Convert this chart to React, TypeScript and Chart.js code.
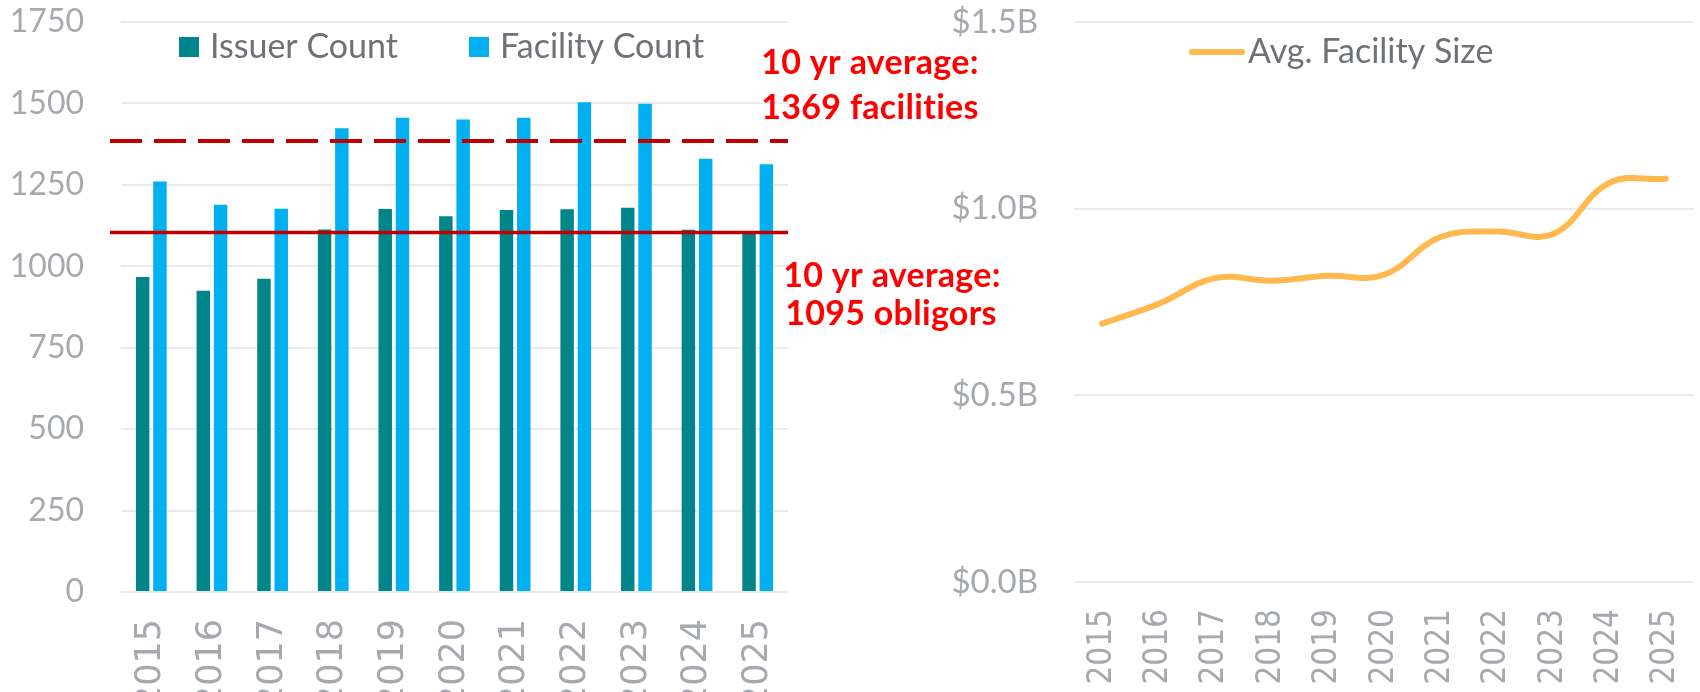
import React, { useEffect, useRef } from "react";
import { Chart, registerables } from "chart.js";

Chart.register(...registerables);

// ---------- data ----------
const years = ["2015", "2016", "2017", "2018", "2019", "2020", "2021", "2022", "2023", "2024", "2025"];
const issuerCount = [967, 925, 962, 1113, 1176, 1154, 1173, 1175, 1180, 1112, 1100];
const facilityCount = [1260, 1189, 1177, 1424, 1456, 1451, 1456, 1504, 1499, 1330, 1313];
const facilityAvgLine = 1385;
const issuerAvgLine = 1104;
const facilityAvgLabel = ["10 yr average:", "1369 facilities"];
const issuerAvgLabel = ["10 yr average:", "1095 obligors"];
const countAxis = { min: 0, max: 1750, step: 250 };

const avgFacilitySizeB = [0.692, 0.745, 0.814, 0.807, 0.82, 0.823, 0.924, 0.939, 0.932, 1.069, 1.08];
const sizeAxisB = { min: 0, max: 1.5, step: 0.5 };

const seriesNames = { issuer: "Issuer Count", facility: "Facility Count", size: "Avg. Facility Size" };

// ---------- styles ----------
const TEAL = "#00868A";
const BLUE = "#00B0F0";
const ORANGE = "#FFB94F";
const DARKRED = "#C00000";
const RED = "#FF0000";
const TICK = "#A6A9AD";
const LEGEND_TXT = "#6E7277";
const GRID = "#EBEBEB";
const CLEAR = "rgba(0,0,0,0)";

const leftOverlay = {
  id: "leftOverlay",
  afterDatasetsDraw(chart: any) {
    const { ctx, chartArea, scales } = chart;
    const y = scales.y;
    ctx.save();
    ctx.strokeStyle = DARKRED;
    ctx.lineWidth = 4;
    ctx.setLineDash([32, 12]);
    let py = y.getPixelForValue(facilityAvgLine);
    ctx.beginPath();
    ctx.moveTo(chartArea.left - 11, py);
    ctx.lineTo(chartArea.right, py);
    ctx.stroke();
    ctx.setLineDash([]);
    ctx.lineWidth = 3.5;
    py = y.getPixelForValue(issuerAvgLine);
    ctx.beginPath();
    ctx.moveTo(chartArea.left - 11, py);
    ctx.lineTo(chartArea.right, py);
    ctx.stroke();
    ctx.restore();
  },
  afterDraw(chart: any) {
    const { ctx } = chart;
    ctx.save();
    const items = [
      { label: chart.data.datasets[0].label, color: TEAL, x: 179 },
      { label: chart.data.datasets[1].label, color: BLUE, x: 469 },
    ];
    ctx.font = "34px Lato";
    ctx.textBaseline = "alphabetic";
    ctx.textAlign = "left";
    items.forEach((it) => {
      ctx.fillStyle = it.color;
      ctx.fillRect(it.x, 37, 20, 20);
      ctx.fillStyle = LEGEND_TXT;
      ctx.fillText(it.label, it.x + 31, 58);
    });
    ctx.font = "bold 34px Lato";
    try {
      (ctx as any).letterSpacing = "0.3px";
    } catch (e) {}
    ctx.fillStyle = RED;
    ctx.textAlign = "center";
    ctx.fillText(facilityAvgLabel[0], 870, 74);
    ctx.fillText(facilityAvgLabel[1], 870, 119);
    ctx.fillText(issuerAvgLabel[0], 892, 287);
    ctx.fillText(issuerAvgLabel[1], 891, 325);
    ctx.restore();
  },
};

const rightOverlay = {
  id: "rightOverlay",
  afterDraw(chart: any) {
    const { ctx } = chart;
    ctx.save();
    ctx.strokeStyle = ORANGE;
    ctx.lineWidth = 6;
    ctx.lineCap = "round";
    ctx.beginPath();
    ctx.moveTo(262, 52);
    ctx.lineTo(312, 52);
    ctx.stroke();
    ctx.font = "34px Lato";
    ctx.fillStyle = LEGEND_TXT;
    ctx.textAlign = "left";
    ctx.textBaseline = "alphabetic";
    ctx.fillText(chart.data.datasets[0].label, 318, 63);
    ctx.restore();
  },
};

export default function App() {
  const leftRef = useRef<HTMLCanvasElement>(null);
  const rightRef = useRef<HTMLCanvasElement>(null);

  useEffect(() => {
    const left = new Chart(leftRef.current as HTMLCanvasElement, {
      type: "bar",
      data: {
        labels: years,
        datasets: [
          { label: seriesNames.issuer, data: issuerCount, backgroundColor: TEAL, barPercentage: 0.78, categoryPercentage: 0.57 },
          { label: seriesNames.facility, data: facilityCount, backgroundColor: BLUE, barPercentage: 0.78, categoryPercentage: 0.57 },
        ],
      },
      options: {
        responsive: false,
        animation: false,
        devicePixelRatio: 1,
        layout: { padding: { top: 22, right: 222, bottom: 0, left: 0 } },
        plugins: { legend: { display: false }, tooltip: { enabled: false } },
        scales: {
          x: {
            ticks: {
              minRotation: 90,
              maxRotation: 90,
              autoSkip: false,
              padding: 0,
              color: TICK,
              font: { family: "'DejaVu Sans'", size: 35, lineHeight: 1 },
            },
            grid: { display: true, drawOnChartArea: false, color: CLEAR, drawTicks: true, tickLength: 27, tickColor: CLEAR },
            border: { display: false },
            afterFit: (s: any) => {
              s.height = 100;
            },
          },
          y: {
            min: countAxis.min,
            max: countAxis.max,
            ticks: {
              stepSize: countAxis.step,
              padding: 0,
              color: TICK,
              font: { family: "Lato", size: 32 },
              callback: (v: any) => String(v),
            },
            grid: { color: GRID, lineWidth: 2, drawTicks: true, tickLength: 37, tickColor: CLEAR },
            border: { display: false },
            afterFit: (s: any) => {
              s.width = 121;
            },
          },
        },
      },
      plugins: [leftOverlay],
    } as any);

    const right = new Chart(rightRef.current as HTMLCanvasElement, {
      type: "line",
      data: {
        labels: years,
        datasets: [
          {
            label: seriesNames.size,
            data: avgFacilitySizeB,
            borderColor: ORANGE,
            backgroundColor: ORANGE,
            borderWidth: 6,
            tension: 0.4,
            pointRadius: 0,
            borderCapStyle: "round",
            fill: false,
          },
        ],
      },
      options: {
        responsive: false,
        animation: false,
        devicePixelRatio: 1,
        layout: { padding: { top: 22, right: 6, bottom: 0, left: 0 } },
        plugins: { legend: { display: false }, tooltip: { enabled: false } },
        scales: {
          x: {
            offset: true,
            ticks: {
              minRotation: 90,
              maxRotation: 90,
              autoSkip: false,
              padding: 0,
              color: TICK,
              font: { family: "'DejaVu Sans Condensed', 'DejaVu Sans'", size: 33, lineHeight: 1 },
            },
            grid: { display: true, drawOnChartArea: false, color: CLEAR, drawTicks: true, tickLength: 27, tickColor: CLEAR },
            border: { display: false },
            afterFit: (s: any) => {
              s.height = 110;
            },
          },
          y: {
            min: sizeAxisB.min,
            max: sizeAxisB.max,
            ticks: {
              stepSize: sizeAxisB.step,
              padding: 0,
              color: TICK,
              font: { family: "Lato", size: 33 },
              callback: (v: any) => "$" + Number(v).toFixed(1) + "B",
            },
            grid: { color: GRID, lineWidth: 2, drawTicks: true, tickLength: 36, tickColor: CLEAR },
            border: { display: false },
            afterFit: (s: any) => {
              s.width = 144;
            },
          },
        },
      },
      plugins: [rightOverlay],
    } as any);

    return () => {
      left.destroy();
      right.destroy();
    };
  }, []);

  return (
    <div style={{ position: "fixed", left: 0, top: 0, width: 1700, height: 692, background: "#ffffff", overflow: "hidden" }}>
      <canvas ref={leftRef} width={1010} height={692} style={{ position: "absolute", left: 0, top: 0, width: 1010, height: 692 }} />
      <canvas ref={rightRef} width={770} height={692} style={{ position: "absolute", left: 930, top: 0, width: 770, height: 692 }} />
    </div>
  );
}
